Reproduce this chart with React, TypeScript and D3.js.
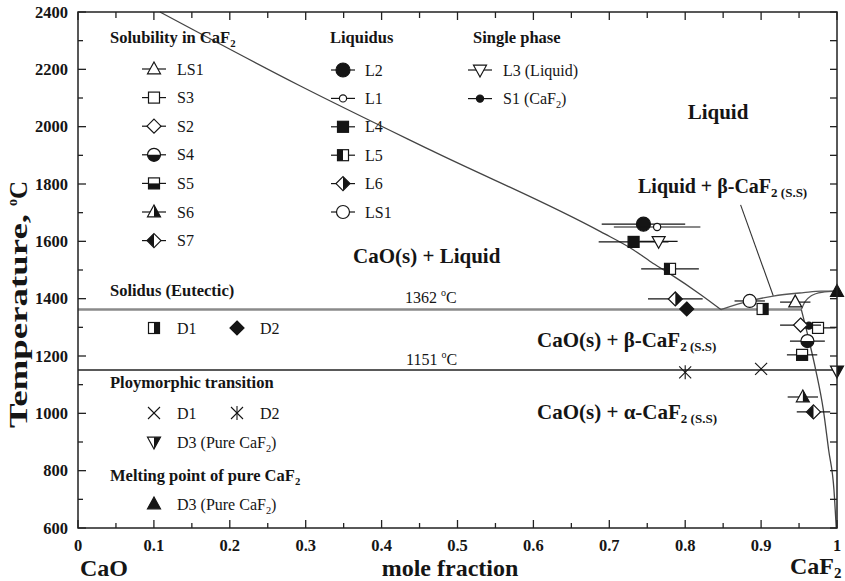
import React from 'react';
import * as d3 from 'd3';

// ---------- axis ticks ----------
const xMajorTicks = [0, 0.1, 0.2, 0.3, 0.4, 0.5, 0.6, 0.7, 0.8, 0.9, 1];
const xTickLabels = ['0', '0.1', '0.2', '0.3', '0.4', '0.5', '0.6', '0.7', '0.8', '0.9', '1'];
const xMinorTicks = [0.05, 0.15, 0.25, 0.35, 0.45, 0.55, 0.65, 0.75, 0.85, 0.95];
const yMajorTicks = [600, 800, 1000, 1200, 1400, 1600, 1800, 2000, 2200, 2400];
const yMinorTicks = [700, 900, 1100, 1300, 1500, 1700, 1900, 2100, 2300];

// ---------- phase boundary curves [mole fraction CaF2, T] ----------
const liquidusCaO: [number, number][] = [
  [0.108, 2400], [0.293, 2142], [0.464, 1919], [0.689, 1633], [0.732, 1570],
  [0.755, 1528], [0.778, 1490], [0.821, 1413], [0.847, 1362],
];
const liquidusCaF2: [number, number][] = [
  [0.847, 1362], [0.885, 1392], [0.916, 1409], [0.956, 1421], [0.979, 1426], [1.0, 1426],
];
const solidusCaF2: [number, number][] = [
  [0.953, 1362], [0.958, 1390], [0.966, 1410], [0.98, 1422], [1.0, 1426],
];
const solvusCaF2: [number, number][] = [
  [0.953, 1362], [0.963, 1256], [0.972, 1151], [0.982, 1012], [0.989, 872], [0.996, 733], [0.999, 600],
];
const eutecticT = 1362;
const eutecticEndX = 0.953;
const polymorphT = 1151;
const leaderLine: [number, number][] = [[0.873, 1727], [0.916, 1410]];

// ---------- experimental data (x, T, horizontal error) ----------
const solubilityNames = ['LS1', 'S3', 'S2', 'S4', 'S5', 'S6', 'S7'];
const solubilityMarkers = ['triUp', 'square', 'diamond', 'circleHalfB', 'squareHalfB', 'triUpHalfR', 'diamondHalfL'];
const solubilityX = [0.945, 0.975, 0.952, 0.961, 0.954, 0.955, 0.969];
const solubilityT = [1388, 1298, 1308, 1252, 1204, 1057, 1005];
const solubilityErr = [0.02, 0.023, 0.027, 0.023, 0.02, 0.02, 0.022];

const liquidusNames = ['L2', 'L1', 'L4', 'L5', 'L6', 'LS1'];
const liquidusMarkers = ['circleBig', 'circleSmall', 'squareFilled', 'squareHalfL', 'diamondHalfR', 'circleOpen'];
const liquidusX = [0.745, 0.763, 0.732, 0.78, 0.787, 0.885];
const liquidusT = [1660, 1650, 1598, 1504, 1399, 1392];
const liquidusErr = [0.055, 0.057, 0.046, 0.038, 0.036, 0.02];

const singleNames = ['L3 (Liquid)', 'S1 (CaF2)'];
const singleMarkers = ['triDown', 'dot'];
const singleX = [0.765, 0.963];
const singleT = [1600, 1306];
const singleErr = [0.025, 0.018];

const solidusNames = ['D1', 'D2'];
const solidusMarkers = ['squareHalfR', 'diamondFilled'];
const solidusX = [0.902, 0.802];
const solidusT = [1364, 1364];

const polyNames = ['D1', 'D2', 'D3 (Pure CaF2)'];
const polyMarkers = ['cross', 'asterisk', 'triDownHalfR'];
const polyX = [0.9, 0.8, 1.0];
const polyT = [1155, 1143, 1148];

const meltNames = ['D3 (Pure CaF2)'];
const meltMarkers = ['triUpFilled'];
const meltX = [1.0];
const meltT = [1425];

const FONT = "'Liberation Serif', 'Times New Roman', serif";
const INK = '#151515';

function Marker({ type, cx, cy }: { type: string; cx: number; cy: number }) {
  const sw = 1.2;
  const common = { stroke: INK, strokeWidth: sw };
  const s = 5.5; // half side square
  const d = 7; // diamond radius
  const tri = { top: -7, bot: 4.8, half: 6.5 };
  let el: React.ReactNode = null;
  switch (type) {
    case 'triUp':
    case 'triUpFilled':
    case 'triUpHalfR': {
      const pts = `0,${tri.top} ${tri.half},${tri.bot} ${-tri.half},${tri.bot}`;
      el = (
        <>
          <polygon points={pts} fill={type === 'triUpFilled' ? INK : '#fff'} {...common} />
          {type === 'triUpHalfR' && <polygon points={`0,${tri.top} ${tri.half},${tri.bot} 0,${tri.bot}`} fill={INK} />}
        </>
      );
      break;
    }
    case 'triDown':
    case 'triDownHalfR': {
      const pts = `0,${-tri.top} ${tri.half},${-tri.bot} ${-tri.half},${-tri.bot}`;
      el = (
        <>
          <polygon points={pts} fill="#fff" {...common} />
          {type === 'triDownHalfR' && <polygon points={`0,${-tri.top} ${tri.half},${-tri.bot} 0,${-tri.bot}`} fill={INK} />}
        </>
      );
      break;
    }
    case 'square':
    case 'squareFilled':
    case 'squareHalfL':
    case 'squareHalfR':
    case 'squareHalfB':
      el = (
        <>
          <rect x={-s} y={-s} width={2 * s} height={2 * s} fill={type === 'squareFilled' ? INK : '#fff'} {...common} />
          {type === 'squareHalfL' && <rect x={-s} y={-s} width={s} height={2 * s} fill={INK} />}
          {type === 'squareHalfR' && <rect x={0} y={-s} width={s} height={2 * s} fill={INK} />}
          {type === 'squareHalfB' && <rect x={-s} y={0} width={2 * s} height={s} fill={INK} />}
        </>
      );
      break;
    case 'diamond':
    case 'diamondFilled':
    case 'diamondHalfL':
    case 'diamondHalfR':
      el = (
        <>
          <polygon points={`0,${-d} ${d},0 0,${d} ${-d},0`} fill={type === 'diamondFilled' ? INK : '#fff'} {...common} />
          {type === 'diamondHalfL' && <polygon points={`0,${-d} 0,${d} ${-d},0`} fill={INK} />}
          {type === 'diamondHalfR' && <polygon points={`0,${-d} ${d},0 0,${d}`} fill={INK} />}
        </>
      );
      break;
    case 'circleBig':
      el = <circle r={7} fill={INK} {...common} />;
      break;
    case 'circleSmall':
      el = <circle r={3.6} fill="#fff" {...common} />;
      break;
    case 'circleOpen':
      el = <circle r={6.5} fill="#fff" {...common} />;
      break;
    case 'circleHalfB':
      el = (
        <>
          <circle r={6.5} fill="#fff" {...common} />
          <path d="M -6.5 0 A 6.5 6.5 0 0 0 6.5 0 Z" fill={INK} />
        </>
      );
      break;
    case 'dot':
      el = <circle r={3.6} fill={INK} {...common} />;
      break;
    case 'cross':
      el = (
        <g stroke={INK} strokeWidth={1.1}>
          <line x1={-6} y1={-6} x2={6} y2={6} />
          <line x1={-6} y1={6} x2={6} y2={-6} />
        </g>
      );
      break;
    case 'asterisk':
      el = (
        <g stroke={INK} strokeWidth={1.1}>
          <line x1={-6} y1={-6} x2={6} y2={6} />
          <line x1={-6} y1={6} x2={6} y2={-6} />
          <line x1={0} y1={-7} x2={0} y2={7} />
        </g>
      );
      break;
  }
  return <g transform={`translate(${cx},${cy})`}>{el}</g>;
}

// label with "CaF2" subscript handling
function SubLabel({ text, x, y, size, weight }: { text: string; x: number; y: number; size: number; weight?: string }) {
  const idx = text.indexOf('CaF2');
  if (idx < 0) {
    return (
      <text x={x} y={y} fontSize={size} fontWeight={weight || 'normal'} fontFamily={FONT} fill={INK}>
        {text}
      </text>
    );
  }
  const before = text.slice(0, idx + 3);
  const after = text.slice(idx + 4);
  return (
    <text x={x} y={y} fontSize={size} fontWeight={weight || 'normal'} fontFamily={FONT} fill={INK}>
      {before}
      <tspan fontSize={size * 0.65} dy={size * 0.25}>2</tspan>
      <tspan dy={-size * 0.25}>{after}</tspan>
    </text>
  );
}

export default function App() {
  const x = d3.scaleLinear().domain([0, 1]).range([78, 837]);
  const y = d3.scaleLinear().domain([600, 2400]).range([528, 12]);
  const line = d3
    .line<[number, number]>()
    .x((p) => x(p[0]))
    .y((p) => y(p[1]))
    .curve(d3.curveMonotoneX);
  const straight = d3
    .line<[number, number]>()
    .x((p) => x(p[0]))
    .y((p) => y(p[1]));

  const x0 = x(0), x1 = x(1), yTop = y(2400), yBot = y(600);

  const renderPoints = (xs: number[], ts: number[], markers: string[], errs?: number[]) =>
    xs.map((xv, i) => (
      <g key={i}>
        {errs && (
          <line x1={x(xv - errs[i])} x2={x(xv + errs[i])} y1={y(ts[i])} y2={y(ts[i])} stroke={INK} strokeWidth={1.2} />
        )}
        <Marker type={markers[i]} cx={x(xv)} cy={y(ts[i])} />
      </g>
    ));

  const legendColumn = (names: string[], markers: string[], mx: number, tx: number, y0: number, step: number) =>
    names.map((n, i) => (
      <g key={n + i}>
        <line x1={mx - 12} x2={mx + 12} y1={y0 + i * step} y2={y0 + i * step} stroke={INK} strokeWidth={1.2} />
        <Marker type={markers[i]} cx={mx} cy={y0 + i * step} />
        <SubLabel text={n} x={tx} y={y0 + i * step + 5.5} size={16} />
      </g>
    ));

  const titleSize = 16.5;

  return (
    <svg width={845} height={581} style={{ position: 'absolute', left: 0, top: 0, background: '#fff' }} fontFamily={FONT}>
      <rect x={0} y={0} width={845} height={581} fill="#fff" />

      {/* phase lines */}
      <line x1={x0} x2={x(eutecticEndX)} y1={y(eutecticT)} y2={y(eutecticT)} stroke="#8a8a8a" strokeWidth={2.4} />
      <line x1={x0} x2={x1} y1={y(polymorphT)} y2={y(polymorphT)} stroke="#222" strokeWidth={1.5} />
      <path d={line(liquidusCaO) || ''} fill="none" stroke="#444" strokeWidth={1.3} />
      <path d={line(liquidusCaF2) || ''} fill="none" stroke="#555" strokeWidth={1.3} />
      <path d={line(solidusCaF2) || ''} fill="none" stroke="#555" strokeWidth={1.3} />
      <path d={line(solvusCaF2) || ''} fill="none" stroke="#444" strokeWidth={1.3} />
      <path d={straight(leaderLine) || ''} fill="none" stroke="#333" strokeWidth={1.1} />

      {/* data */}
      {renderPoints(liquidusX, liquidusT, liquidusMarkers, liquidusErr)}
      {renderPoints(singleX, singleT, singleMarkers, singleErr)}
      {renderPoints(solidusX, solidusT, solidusMarkers)}
      {renderPoints(solubilityX, solubilityT, solubilityMarkers, solubilityErr)}
      {renderPoints(polyX, polyT, polyMarkers)}
      {renderPoints(meltX, meltT, meltMarkers)}

      {/* frame */}
      <rect x={x0} y={yTop} width={x1 - x0} height={yBot - yTop} fill="none" stroke="#222" strokeWidth={1.5} />
      {/* ticks */}
      {xMajorTicks.map((t) => (
        <g key={'xm' + t} stroke="#222" strokeWidth={1.3}>
          <line x1={x(t)} x2={x(t)} y1={yBot} y2={yBot - 8} />
          <line x1={x(t)} x2={x(t)} y1={yTop} y2={yTop + 8} />
        </g>
      ))}
      {xMinorTicks.map((t) => (
        <g key={'xn' + t} stroke="#222" strokeWidth={1.3}>
          <line x1={x(t)} x2={x(t)} y1={yBot} y2={yBot - 5} />
          <line x1={x(t)} x2={x(t)} y1={yTop} y2={yTop + 6} />
        </g>
      ))}
      {yMajorTicks.map((t) => (
        <g key={'ym' + t} stroke="#222" strokeWidth={1.3}>
          <line x1={x0} x2={x0 + 8} y1={y(t)} y2={y(t)} />
          <line x1={x1} x2={x1 - 7} y1={y(t)} y2={y(t)} />
        </g>
      ))}
      {yMinorTicks.map((t) => (
        <g key={'yn' + t} stroke="#222" strokeWidth={1.3}>
          <line x1={x0} x2={x0 + 5} y1={y(t)} y2={y(t)} />
          <line x1={x1} x2={x1 - 7} y1={y(t)} y2={y(t)} />
        </g>
      ))}

      {/* tick labels */}
      {xMajorTicks.map((t, i) => (
        <text key={'xl' + t} x={x(t)} y={551} textAnchor="middle" fontSize={16.5} fontWeight="bold" fill={INK}>
          {xTickLabels[i]}
        </text>
      ))}
      {yMajorTicks.map((t) => (
        <text key={'yl' + t} x={68} y={y(t) + 5.5} textAnchor="end" fontSize={16.5} fontWeight="bold" fill={INK}>
          {t}
        </text>
      ))}

      {/* axis titles */}
      <text x={80} y={576} fontSize={24} fontWeight="bold" fill={INK}>CaO</text>
      <text x={450} y={576} textAnchor="middle" fontSize={24} fontWeight="bold" fill={INK}>mole fraction</text>
      <text x={790} y={574} fontSize={24} fontWeight="bold" fill={INK}>
        CaF<tspan fontSize={15} dy={4}>2</tspan>
      </text>
      <text
        transform="translate(27,428) rotate(-90)"
        fontSize={25}
        fontWeight="bold"
        fill={INK}
        textLength={214}
        lengthAdjust="spacingAndGlyphs"
      >
        Temperature,
      </text>
      <text transform="translate(27,206) rotate(-90)" fontSize={25} fontWeight="bold" fill={INK}>
        <tspan fontSize={14} dy={-10}>o</tspan>
        <tspan dy={10}>C</tspan>
      </text>

      {/* region labels */}
      <text x={718} y={119} textAnchor="middle" fontSize={21} fontWeight="bold" fill={INK}>Liquid</text>
      <text x={638} y={193} fontSize={20} fontWeight="bold" fill={INK}>
        Liquid + β-CaF<tspan fontSize={13} dy={4}>2 (S.S)</tspan>
      </text>
      <text x={353} y={263} fontSize={21} fontWeight="bold" fill={INK}>CaO(s) + Liquid</text>
      <text x={537} y={347} fontSize={21} fontWeight="bold" fill={INK}>
        CaO(s) + β-CaF<tspan fontSize={13} dy={4}>2 (S.S)</tspan>
      </text>
      <text x={537} y={419} fontSize={21} fontWeight="bold" fill={INK}>
        CaO(s) + α-CaF<tspan fontSize={13} dy={4}>2 (S.S)</tspan>
      </text>
      <text x={405} y={303} fontSize={16} fill={INK}>
        {eutecticT} <tspan fontSize={10} dy={-7}>o</tspan><tspan dy={7}>C</tspan>
      </text>
      <text x={406} y={365} fontSize={16} fill={INK}>
        {polymorphT} <tspan fontSize={10} dy={-7}>o</tspan><tspan dy={7}>C</tspan>
      </text>

      {/* legends */}
      <SubLabel text="Solubility in CaF2" x={110} y={43} size={titleSize} weight="bold" />
      {legendColumn(solubilityNames, solubilityMarkers, 154, 177, 69, 28.6)}
      <SubLabel text="Liquidus" x={330} y={43} size={titleSize} weight="bold" />
      {legendColumn(liquidusNames, liquidusMarkers, 343, 365, 70, 28.4)}
      <SubLabel text="Single phase" x={473} y={43} size={titleSize} weight="bold" />
      {legendColumn(singleNames, singleMarkers, 480, 503, 70, 28.6)}

      <SubLabel text="Solidus (Eutectic)" x={110} y={296} size={titleSize} weight="bold" />
      {solidusNames.map((n, i) => (
        <g key={'sd' + i}>
          <Marker type={solidusMarkers[i]} cx={154 + i * 83} cy={328} />
          <SubLabel text={n} x={177 + i * 83} y={333.5} size={16} />
        </g>
      ))}
      <SubLabel text="Ploymorphic transition" x={110} y={388} size={titleSize} weight="bold" />
      {polyNames.map((n, i) => (
        <g key={'pd' + i}>
          <Marker type={polyMarkers[i]} cx={154 + (i === 1 ? 83 : 0)} cy={i === 2 ? 442 : 413} />
          <SubLabel text={n} x={177 + (i === 1 ? 83 : 0)} y={(i === 2 ? 442 : 413) + 5.5} size={16} />
        </g>
      ))}
      <SubLabel text="Melting point of pure CaF2" x={110} y={481} size={titleSize} weight="bold" />
      {meltNames.map((n, i) => (
        <g key={'md' + i}>
          <Marker type={meltMarkers[i]} cx={154} cy={504} />
          <SubLabel text={n} x={177} y={509.5} size={16} />
        </g>
      ))}
    </svg>
  );
}
